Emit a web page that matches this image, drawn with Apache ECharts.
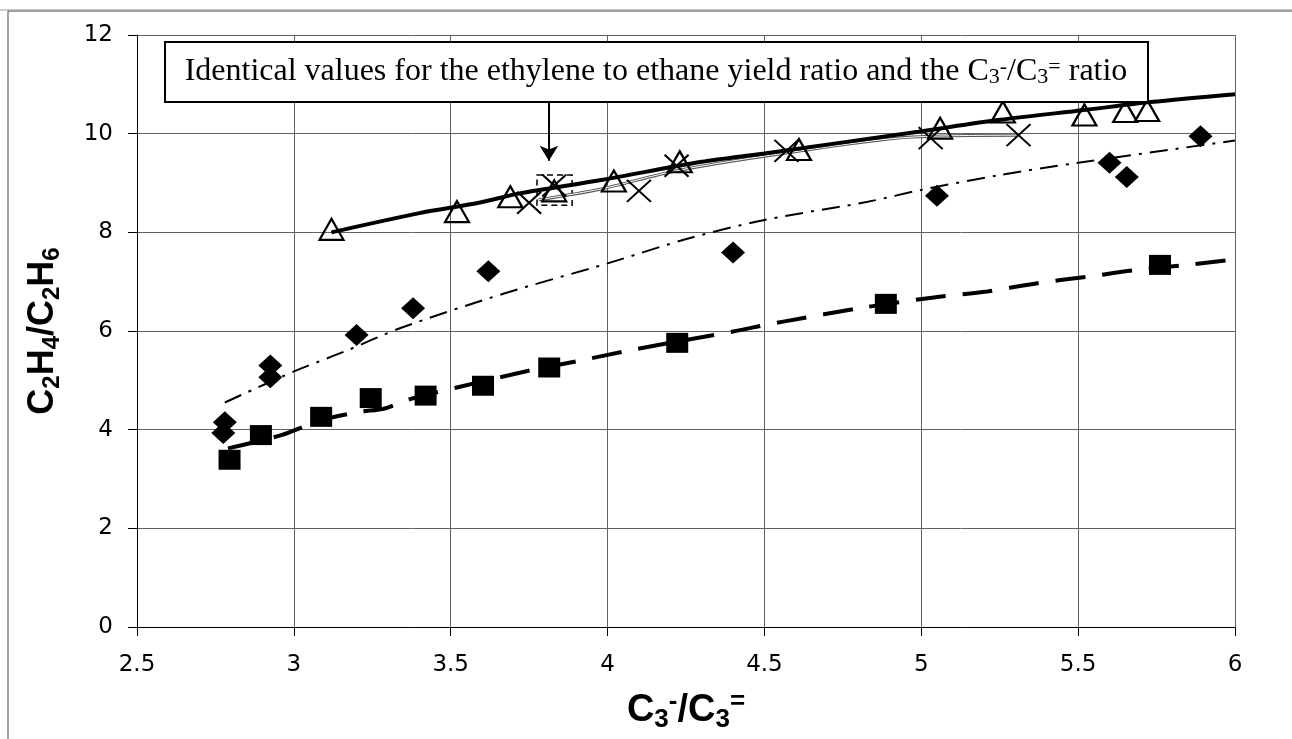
<!DOCTYPE html>
<html>
<head>
<meta charset="utf-8">
<script src="https://cdn.jsdelivr.net/npm/echarts@6/dist/echarts.min.js"></script>
<style>
html,body{margin:0;padding:0;background:#fff;}
#c{width:1292px;height:739px;}
</style>
</head>
<body>
<div id="c"></div>
<script>
// ---- data ----
const xTicks = [2.5, 3, 3.5, 4, 4.5, 5, 5.5, 6];
const yTicks = [0, 2, 4, 6, 8, 10, 12];

const triangles = [[3.12,8.06],[3.52,8.42],[3.69,8.72],[3.83,8.84],[4.02,9.04],[4.23,9.43],[4.61,9.68],[5.06,10.11],[5.26,10.44],[5.52,10.38],[5.65,10.45],[5.72,10.47]];
const crosses = [[3.75,8.60],[3.83,8.95],[4.10,8.84],[4.22,9.35],[4.57,9.65],[5.03,9.91],[5.31,9.97]];
const diamonds = [[2.78,4.15],[2.775,3.93],[2.925,5.30],[2.925,5.06],[3.20,5.92],[3.38,6.46],[3.62,7.21],[4.40,7.59],[5.05,8.74],[5.60,9.41],[5.655,9.12],[5.89,9.95]];
const squares = [[2.795,3.39],[2.895,3.89],[3.087,4.26],[3.245,4.64],[3.42,4.69],[3.603,4.89],[3.814,5.26],[4.222,5.76],[4.887,6.55],[5.761,7.34]];

const fitTriangles = [[3.12,8.0],[3.40,8.39],[3.59,8.60],[3.72,8.79],[3.98,9.06],[4.30,9.43],[4.50,9.60],[4.99,10.04],[5.25,10.28],[5.52,10.48],[5.73,10.64],[6.0,10.80]];
const fitCrosses = [[3.78,8.66],[3.98,8.88],[4.22,9.25],[4.56,9.60],[4.97,9.93],[5.31,9.97]];
const fitDiamonds = [[2.78,4.55],[3.0,5.18],[3.16,5.58],[3.34,6.06],[3.67,6.76],[4.0,7.37],[4.26,7.88],[4.5,8.25],[4.83,8.62],[5.0,8.86],[5.25,9.16],[5.5,9.41],[6.0,9.86]];
const fitSquares = [[2.79,3.62],[2.96,3.89],[3.09,4.20],[3.21,4.36],[3.29,4.43],[3.36,4.60],[3.53,4.87],[3.76,5.21],[3.92,5.41],[4.08,5.62],[4.40,5.99],[4.50,6.12],[4.56,6.19],[4.82,6.48],[5.04,6.68],[5.21,6.80],[5.37,6.97],[5.53,7.10],[5.69,7.24],[5.85,7.34],[6.0,7.45]];

const highlightBox = [[3.775, 9.16], [3.887, 8.55]];
const arrowFromTo = [[3.813, 10.64], [3.813, 9.45]];

const noteText = 'Identical values for the ethylene to ethane yield ratio and the C{sub|3}{sup|-}/C{sub|3}{sup|=} ratio';

// ---- chart ----
const chart = echarts.init(document.getElementById('c'), null, {renderer:'canvas'});
const gridColor = '#626262';
const sans = 'Liberation Sans, Arial, sans-serif';
const tickFont = 'DejaVu Sans, Liberation Sans, sans-serif';
const serif = 'Liberation Serif, Times New Roman, serif';

const option = {
  animation: false,
  backgroundColor: '#fff',
  grid: {left: 137, right: 57, top: 35, bottom: 112, containLabel: false},
  xAxis: {
    type: 'value', min: xTicks[0], max: xTicks[xTicks.length-1], interval: 0.5,
    axisLine: {show: true, onZero: false, lineStyle: {color: '#000', width: 1}},
    axisTick: {show: true, inside: false, length: 9, lineStyle: {color: '#000'}},
    axisLabel: {margin: 27, fontSize: 23, color: '#000', fontFamily: tickFont,
      formatter: v => String(v)},
    splitLine: {show: true, lineStyle: {color: gridColor, width: 1}},
    name: '{b|C}{s|3}{p|-}{b|/C}{s|3}{p|=}',
    nameLocation: 'middle', nameGap: 62,
    nameTextStyle: {
      rich: {
        b: {fontSize: 38, fontWeight: 'bold', fontFamily: sans, color: '#000', lineHeight: 44, verticalAlign: 'middle'},
        s: {fontSize: 26, fontWeight: 'bold', fontFamily: sans, color: '#000', lineHeight: 26, verticalAlign: 'bottom'},
        p: {fontSize: 26, fontWeight: 'bold', fontFamily: sans, color: '#000', lineHeight: 26, verticalAlign: 'top'}
      }
    }
  },
  yAxis: {
    type: 'value', min: yTicks[0], max: yTicks[yTicks.length-1], interval: 2,
    axisLine: {show: true, onZero: false, lineStyle: {color: '#000', width: 1}},
    axisTick: {show: true, inside: false, length: 9, lineStyle: {color: '#000'}},
    axisLabel: {margin: 24, fontSize: 23, color: '#000', fontFamily: tickFont},
    splitLine: {show: true, lineStyle: {color: gridColor, width: 1}},
    name: '{b|C}{s|2}{b|H}{s|4}{b|/C}{s|2}{b|H}{s|6}',
    nameLocation: 'middle', nameGap: 73, nameRotate: 90,
    nameTextStyle: {
      rich: {
        b: {fontSize: 36, fontWeight: 'bold', fontFamily: sans, color: '#000', lineHeight: 42, verticalAlign: 'middle'},
        s: {fontSize: 24, fontWeight: 'bold', fontFamily: sans, color: '#000', lineHeight: 24, verticalAlign: 'bottom'}
      }
    }
  },
  series: [
    {type: 'line', data: fitSquares, showSymbol: false, smooth: 0.3, z: 2,
      lineStyle: {color: '#000', width: 4, type: [30, 17]}},
    {type: 'line', data: fitDiamonds, showSymbol: false, smooth: 0.3, z: 2,
      lineStyle: {color: '#000', width: 2, type: [18, 8, 3, 8]}},
    {type: 'line', data: fitCrosses, showSymbol: false, smooth: 0.3, z: 2,
      lineStyle: {color: '#555', width: 3}},
    {type: 'line', data: fitCrosses, showSymbol: false, smooth: 0.3, z: 2,
      lineStyle: {color: '#fff', width: 1}},
    {type: 'line', data: fitTriangles, showSymbol: false, smooth: 0.3, z: 3,
      lineStyle: {color: '#000', width: 4}},
    {type: 'scatter', data: squares, symbol: 'rect', symbolSize: [22, 20], z: 4,
      itemStyle: {color: '#000', opacity: 1}},
    {type: 'scatter', data: diamonds, symbol: 'diamond', symbolSize: [24, 22], z: 4,
      itemStyle: {color: '#000', opacity: 1}},
    {type: 'scatter', data: crosses, symbol: 'path://M0,0L10,10M10,0L0,10', symbolSize: [24, 22], z: 4,
      itemStyle: {color: 'rgba(0,0,0,0)', borderColor: '#000', borderWidth: 2, opacity: 1}},
    {type: 'scatter', data: triangles, symbol: 'triangle', symbolSize: [24, 21], z: 5,
      itemStyle: {color: 'rgba(0,0,0,0)', borderColor: '#000', borderWidth: 2.2, opacity: 1},
      markArea: {silent: true,
        itemStyle: {color: 'rgba(0,0,0,0)', borderColor: '#000', borderWidth: 1.5, borderType: [6, 4]},
        data: [[{coord: highlightBox[0]}, {coord: highlightBox[1]}]]},
      markLine: {silent: true, symbol: ['none', 'arrow'], symbolSize: [14, 15],
        label: {show: false},
        lineStyle: {color: '#000', width: 2, type: 'solid'},
        data: [[{coord: arrowFromTo[0]}, {coord: arrowFromTo[1]}]]}
    }
  ],
  graphic: [
    {type: 'rect', shape: {x: 8, y: 11, width: 1300, height: 760}, z: 0,
      style: {fill: 'none', stroke: '#444', lineWidth: 1}},
    {type: 'line', shape: {x1: 0, y1: 10, x2: 1292, y2: 10}, z: 0,
      style: {stroke: '#999', lineWidth: 1}},
    {type: 'rect', shape: {x: 165, y: 42, width: 983, height: 60}, z: 10,
      style: {fill: '#fff', stroke: '#000', lineWidth: 2}},
    {type: 'text', x: 656, y: 72, z: 11,
      style: {text: noteText, align: 'center', verticalAlign: 'middle',
        fontFamily: serif, fontSize: 32, fill: '#000',
        rich: {
          sub: {fontSize: 22, fontFamily: serif, fill: '#000', verticalAlign: 'bottom', lineHeight: 22},
          sup: {fontSize: 22, fontFamily: serif, fill: '#000', verticalAlign: 'top', lineHeight: 22}
        }}}
  ]
};
chart.setOption(option);
</script>
</body>
</html>
